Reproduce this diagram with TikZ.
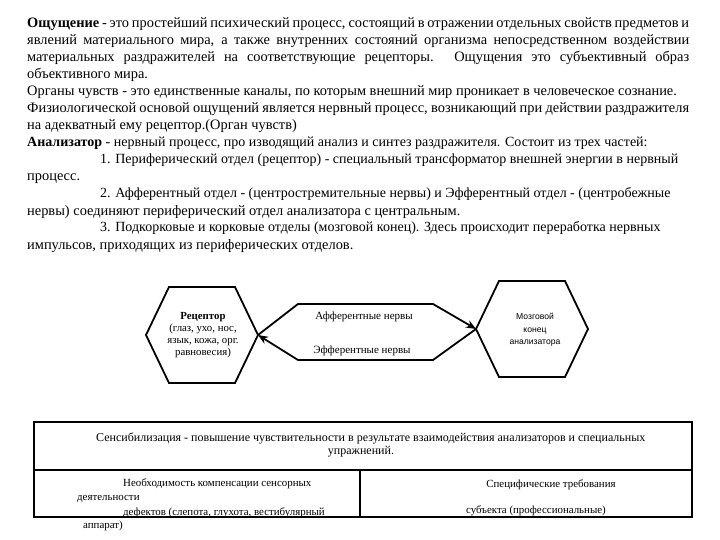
\documentclass[tikz,border=0pt]{standalone}
\usepackage{fontspec}
\setmainfont{Liberation Serif}
\newfontfamily\arialfont{Liberation Sans}
\usetikzlibrary{arrows.meta}
\begin{document}
\begin{tikzpicture}[x=1pt, y=-1pt]
\tikzset{txt/.style={anchor=base west, inner sep=0pt, font=\fontsize{14.4}{17}\selectfont}}
\tikzset{txtn/.style={txt, font=\fontsize{14}{17}\selectfont}}
\useasboundingbox (0,0) rectangle (720,540);

\node[txt] (l1) at (27,28) {\makebox[662pt][s]{\textbf{Ощущение} - это простейший психический процесс, состоящий в отражении отдельных свойств предметов и}};
\node[txt] (l2) at (27,45) {\makebox[662pt][s]{явлений материального мира, а также внутренних состояний организма непосредственном воздействии}};
\node[txt] (l3) at (27,62) {\makebox[662pt][s]{материальных раздражителей на соответствующие рецепторы. Ощущения это субъективный образ}};
\node[txt] (l4) at (27,79) {объективного мира.};
\node[txt] (l5) at (27,96) {Органы чувств - это единственные каналы, по которым внешний мир проникает в человеческое сознание.};
\node[txt] (l6) at (27,113) {\makebox[662pt][s]{Физиологической основой ощущений является нервный процесс, возникающий при действии раздражителя}};
\node[txt] (l7) at (27,130) {на адекватный ему рецептор.(Орган чувств)};
\node[txtn] (l8) at (27,147) {\textbf{Анализатор} - нервный процесс, про изводящий анализ и синтез раздражителя. Состоит из трех частей:};
\node[txtn] (l9) at (100,164) {1. Периферический отдел (рецептор) - специальный трансформатор внешней энергии в нервный};
\node[txt] (l10) at (27,181) {процесс.};
\node[txtn] (l11) at (100,198) {2. Афферентный отдел - (центростремительные нервы) и Эфферентный отдел - (центробежные};
\node[txt] (l12) at (27,215) {нервы) соединяют периферический отдел анализатора с центральным.};
\node[txtn] (l13) at (100,232) {3. Подкорковые и корковые отделы (мозговой конец). Здесь происходит переработка нервных};
\node[txt] (l14) at (27,249) {импульсов, приходящих из периферических отделов.};

\tikzset{hexline/.style={line width=1.8pt, line join=miter}}
\coordinate (rec) at (202,335);
\coordinate (brain) at (532,329);
\draw[hexline] (rec) ++(-56,0) coordinate (recW) -- ++(23,-48) -- ++(66,0) -- ++(23,48) coordinate (recE) -- ++(-23,48) -- ++(-66,0) -- cycle;
\draw[hexline] (brain) ++(-56,0) coordinate (brainW) -- ++(23,-48) -- ++(66,0) -- ++(23,48) coordinate (brainE) -- ++(-23,48) -- ++(-66,0) -- cycle;
\node[align=center, inner sep=0pt, font=\fontsize{10.8}{12}\selectfont] (rectxt) at (203,335) {\textbf{Рецептор}\\(глаз, ухо, нос,\\язык, кожа, орг.\\равновесия)};
\node[align=center, inner sep=0pt, font=\arialfont\fontsize{8.6}{12.5}\selectfont] (braintxt) at (535,330) {Мозговой\\конец\\анализатора};

\tikzset{nerve/.style={line width=1.8pt, -{Stealth[length=10pt, width=8pt]}}}
\draw[nerve] (recE) -- (298,304) -- (433,304) -- (brainW);
\draw[nerve] (brainW) -- (433,360) -- (298,360) -- (recE);
\node[font=\fontsize{11}{13}\selectfont] (aff) at (364,317) {Афферентные нервы};
\node[font=\fontsize{11}{13}\selectfont] (eff) at (362,351) {Эфферентные нервы};

\tikzset{tbl/.style={line width=1.8pt}}
\tikzset{cell/.style={anchor=base west, inner sep=0pt, font=\fontsize{10.9}{12}\selectfont}}
\draw[tbl] (34,422) rectangle (692,517);
\draw[tbl] (34,470) -- (692,470);
\draw[tbl] (360,470) -- (360,517);
\node[cell, font=\fontsize{12}{13}\selectfont] (sens1) at (96,441) {Сенсибилизация - повышение чувствительности в результате взаимодействия анализаторов и специальных};
\node[cell, anchor=base, font=\fontsize{12}{13}\selectfont] (sens2) at (361,454) {упражнений.};
\node[cell] (need1) at (123,486) {Необходимость компенсации сенсорных};
\node[cell] (need2) at (77,500) {деятельности};
\node[cell] (need3) at (123,515) {дефектов (слепота, глухота, вестибулярный};
\node[cell] (need4) at (83,528) {аппарат)};
\node[cell, anchor=base] (spec1) at (551,487) {Специфические требования};
\node[cell, anchor=base] (spec2) at (536,513) {субъекта (профессиональные)};

\end{tikzpicture}
\end{document}
